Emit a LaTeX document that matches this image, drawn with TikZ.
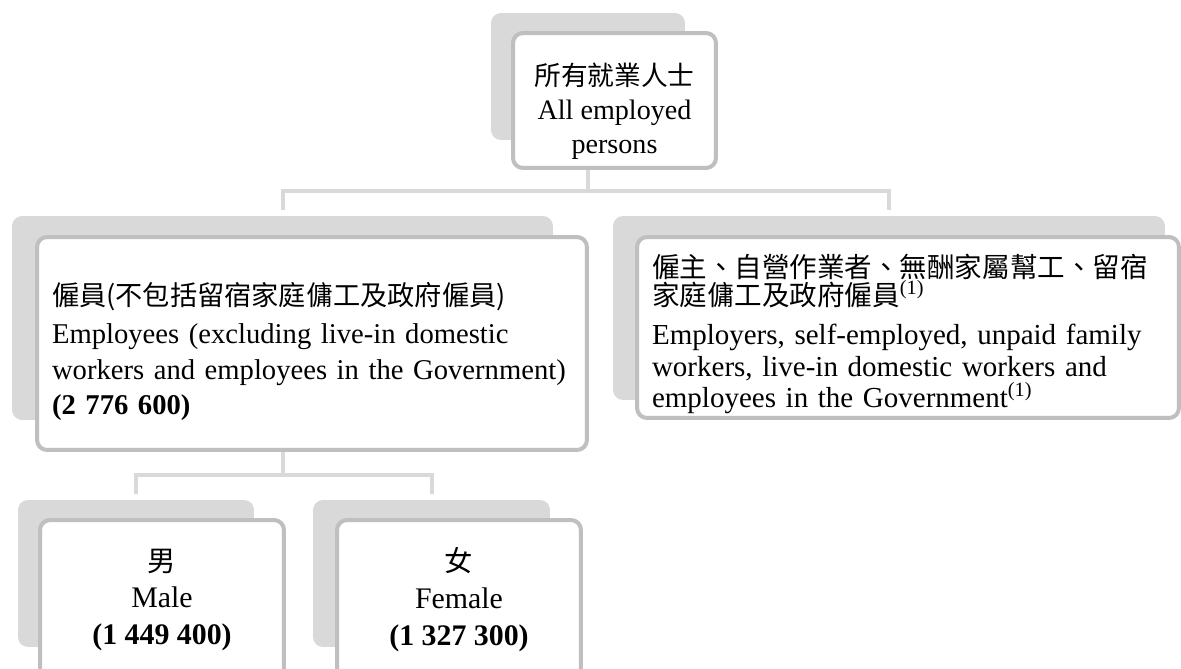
\documentclass[tikz,border=0pt]{standalone}
\usepackage{fontspec}
\setmainfont{Liberation Serif}
\newfontfamily\cjk[Scale=0.95]{Noto Sans CJK TC}
\usetikzlibrary{backgrounds}
\definecolor{boxline}{RGB}{191,191,191}
\definecolor{boxshade}{RGB}{217,217,217}
\definecolor{linkline}{RGB}{217,217,217}
\begin{document}
\begin{tikzpicture}[x=0.02cm, y=-0.02cm,
	backcard/.style={fill=boxshade, rounded corners=0.2cm, inner sep=0pt},
	card/.style={draw=boxline, fill=white, line width=0.08cm, rounded corners=0.2cm,
		inner xsep=0.3cm, inner ysep=0pt, font=\fontsize{17}{20}\selectfont},
	link/.style={draw=linkline, line width=0.08cm}]
		\useasboundingbox (0,0) rectangle (1181,669);
		\clip (0,0) rectangle (1181,669);
		\path
		coordinate (busT) at (0,191)
		coordinate (busB) at (0,475)
		;
		\node[backcard, minimum width=3.88cm, minimum height=2.54cm] (allS) at (588,76.5) {};
		\node[backcard, minimum width=10.82cm, minimum height=4.08cm] (empS) at (282.5,318) {};
		\node[backcard, minimum width=11.04cm, minimum height=3.68cm] (othS) at (889,308) {};
		\node[backcard, minimum width=4.72cm, minimum height=2.94cm] (maleS) at (136,573.5) {};
		\node[backcard, minimum width=4.74cm, minimum height=2.94cm] (femS) at (431.5,573.5) {};
		\node[card, minimum width=4.06cm, minimum height=2.7cm, align=center,
			font=\fontsize{16}{19.5}\selectfont] (all) at (614.5,100.5)
			{\rule{0pt}{25pt}{\cjk 所有就業人士}\\All employed\\persons};
		\node[card, minimum width=11cm, minimum height=4.26cm, text width=10.4cm, align=left,
			font=\fontsize{16.3}{20}\selectfont] (emp) at (312,343.5)
			{\rule{0pt}{22pt}{\cjk 僱員(不包括留宿家庭傭工及政府僱員)}\\[2pt]
			\mbox{Employees (excluding live-in domestic}\\
			\mbox{workers and employees in the Government)}\\
			\textbf{(2 776 600)}};
		\node[card, minimum width=10.84cm, minimum height=3.62cm, text width=10.24cm, align=left,
			font=\fontsize{16.5}{18}\selectfont] (oth) at (908,327.5)
			{\rule{0pt}{21pt}{\cjk 僱主、自營作業者、無酬家屬幫工、留宿}\\[-2pt]
			{\cjk 家庭傭工及政府僱員}\textsuperscript{(1)}\\[4pt]
			\mbox{Employers, self-employed, unpaid family}\\
			\mbox{workers, live-in domestic workers and}\\
			employees in the Government\textsuperscript{(1)}};
		\node[card, minimum width=4.88cm, minimum height=3.2cm, align=center,
			font=\fontsize{17}{21}\selectfont] (male) at (162,600)
			{{\cjk 男}\\Male\\\textbf{(1 449 400)}};
		\node[card, minimum width=4.88cm, minimum height=3.2cm, align=center,
			font=\fontsize{17}{21}\selectfont] (fem) at (459,600)
			{{\cjk 女}\\Female\\\textbf{(1 327 300)}};
		\begin{scope}[on background layer]
			\draw[link] (allS.south) -- (allS.south |- busT);
			\draw[link] ([yshift=0.12cm]empS.north) |- (busT -| othS.north) -- ([yshift=0.12cm]othS.north);
			\draw[link] (empS.south) -- (empS.south |- busB);
			\draw[link] ([yshift=0.12cm]maleS.north) |- (busB -| femS.north) -- ([yshift=0.12cm]femS.north);
		\end{scope}
\end{tikzpicture}
\end{document}
